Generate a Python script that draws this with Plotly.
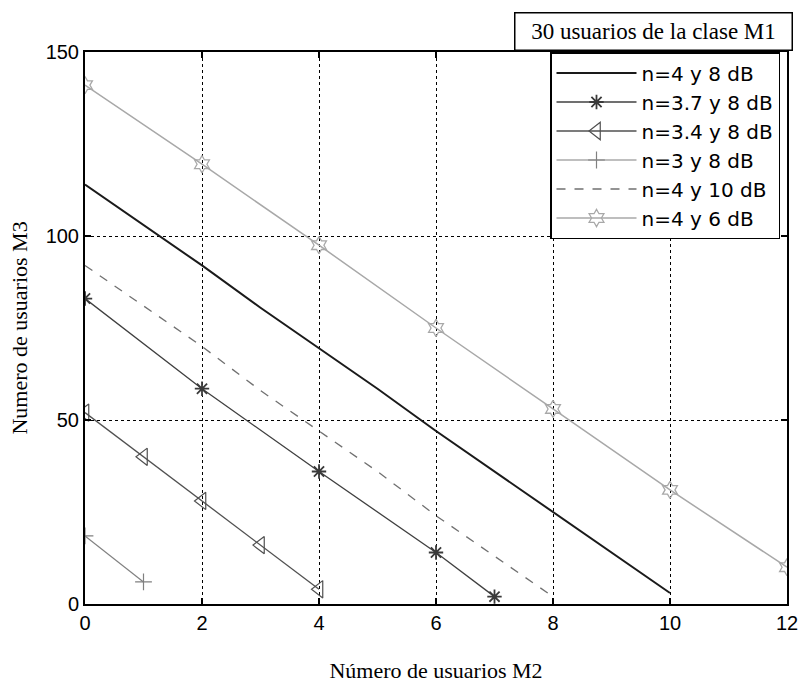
import plotly.graph_objects as go

# Data
x_n4_8 = [0, 1, 2, 3, 4, 5, 6, 7, 8, 9, 10]
y_n4_8 = [114, 103, 92, 80.5, 69.5, 58.5, 47, 36, 25, 14, 3]

x_n37_8 = [0, 2, 4, 6, 7]
y_n37_8 = [83, 58.5, 36, 14, 2]

x_n34_8 = [0, 1, 2, 3, 4]
y_n34_8 = [52, 40, 28, 16, 4]

x_n3_8 = [0, 1]
y_n3_8 = [18.5, 6]

x_n4_10 = [0, 1, 2, 3, 4, 5, 6, 7, 8]
y_n4_10 = [92, 81, 70, 58, 47, 36, 24, 13, 2]

x_n4_6 = [0, 2, 4, 6, 8, 10, 12]
y_n4_6 = [141, 119.5, 97.5, 75, 53, 31, 10]

names = ["n=4 y 8 dB", "n=3.7 y 8 dB", "n=3.4 y 8 dB", "n=3 y 8 dB", "n=4 y 10 dB", "n=4 y 6 dB"]
x_ticks = [0, 2, 4, 6, 8, 10, 12]
y_ticks = [0, 50, 100, 150]

fig = go.Figure()
fig.add_trace(go.Scatter(x=x_n4_8, y=y_n4_8, mode="lines", name=names[0],
                         line=dict(color="#1a1a1a", width=2)))
fig.add_trace(go.Scatter(x=x_n37_8, y=y_n37_8, mode="lines+markers", name=names[1],
                         line=dict(color="#404040", width=1.3),
                         marker=dict(symbol="asterisk-open", size=12, color="#3a3a3a",
                                     line=dict(width=1.8, color="#3a3a3a"))))
fig.add_trace(go.Scatter(x=x_n34_8, y=y_n34_8, mode="lines+markers", name=names[2],
                         line=dict(color="#505050", width=1.3),
                         marker=dict(symbol="triangle-left-open", size=15, color="#505050",
                                     line=dict(width=1.2, color="#505050"))))
fig.add_trace(go.Scatter(x=x_n3_8, y=y_n3_8, mode="lines+markers", name=names[3],
                         line=dict(color="#808080", width=1.2),
                         marker=dict(symbol="cross-thin-open", size=12, color="#808080",
                                     line=dict(width=1.2, color="#808080"))))
fig.add_trace(go.Scatter(x=x_n4_10, y=y_n4_10, mode="lines", name=names[4],
                         line=dict(color="#707070", width=1.3, dash="dash")))
fig.add_trace(go.Scatter(x=x_n4_6, y=y_n4_6, mode="lines+markers", name=names[5],
                         line=dict(color="#a8a8a8", width=1.5),
                         marker=dict(symbol="hexagram-open", size=13, color="#a8a8a8",
                                     line=dict(width=1.3, color="#a8a8a8"))))

axis_common = dict(
    showline=True, linecolor="black", linewidth=2, mirror="ticks",
    ticks="inside", ticklen=6, tickcolor="black", tickwidth=1.5,
    showgrid=True, gridcolor="black", gridwidth=1, griddash="dot",
    zeroline=False, automargin=False,
    tickfont=dict(family="Liberation Sans, Arial, sans-serif", size=20, color="black"),
)

fig.update_xaxes(range=[0, 12], tickvals=x_ticks, **axis_common,
                 title=dict(text="Número de usuarios M2", standoff=30,
                            font=dict(family="Liberation Serif, Times New Roman, serif", size=22, color="black")))
fig.update_yaxes(range=[0, 150], tickvals=y_ticks, **axis_common,
                 title=dict(text="Numero de usuarios M3", standoff=12,
                            font=dict(family="Liberation Serif, Times New Roman, serif", size=22, color="black")))

fig.add_annotation(
    text="30 usuarios de la clase M1", xref="paper", yref="paper",
    x=(514 - 85) / 702, y=1 + (52 - 12) / 552, xanchor="left", yanchor="top",
    showarrow=False, bordercolor="black", borderwidth=1.5, borderpad=2,
    bgcolor="white", width=272, height=32, align="center",
    font=dict(family="Liberation Serif, Times New Roman, serif", size=23, color="black"),
)

fig.update_layout(
    width=800, height=687,
    margin=dict(l=85, r=13, t=52, b=83),
    plot_bgcolor="white", paper_bgcolor="white",
    showlegend=True,
    legend=dict(x=(550 - 85) / 702, y=1, xanchor="left", yanchor="top",
                bgcolor="white", bordercolor="black", borderwidth=1.5,
                font=dict(family="DejaVu Sans, sans-serif", size=20, color="black"),
                itemwidth=80, tracegroupgap=0),
)

fig.write_html("out.html", config={"displayModeBar": False},
               post_script="document.body.style.margin='0';")
